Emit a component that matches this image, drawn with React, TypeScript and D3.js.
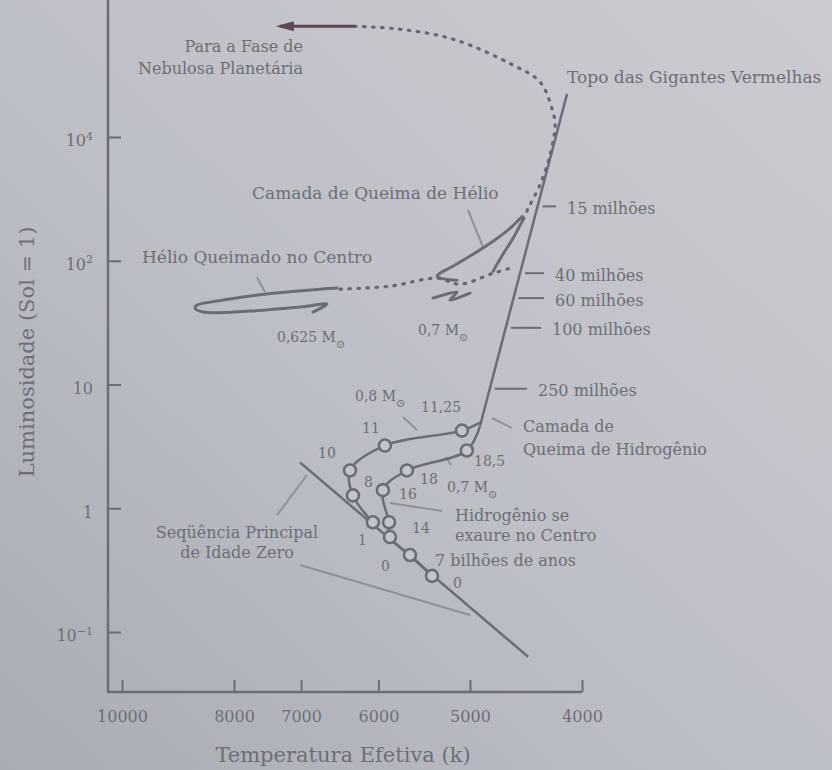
import React, { useEffect, useRef } from "react";
import * as d3 from "d3";

const W = 832;
const H = 770;

// temperature (K) / luminosity (Sol = 1)
const zamsTemp = [7015, 4453];
const zamsLum = [2.35, 0.063];

const track08Temp = [6067, 6313, 6350, 5923, 5081, 4900];
const track08Lum = [0.77, 1.27, 2.02, 3.21, 4.24, 4.92];
const track08Marks = 5;

const track07Temp = [5393, 5635, 5864, 5875, 5947, 5669, 5031, 4900];
const track07Lum = [0.284, 0.419, 0.585, 0.771, 1.4, 2.02, 2.93, 4.66];
const track07Marks = 7;

const giantTemp = [4900, 4121];
const giantLum = [4.66, 2230];

const ageLum = [275, 79.3, 49.9, 28.7, 9.25];
const ageLabels = ["15 milhões", "40 milhões", "60 milhões", "100 milhões", "250 milhões"];
const ageLabelX = [567, 555, 555, 552, 538];

const heShellTemp = [4506, 4617, 4775, 4970, 5173, 5308, 5340, 5256, 5131];
const heShellLum = [228, 183, 143.5, 112.8, 90.3, 79.3, 75.0, 71.0, 69.7];

const heShell2Temp = [4497, 4589, 4682, 4775];
const heShell2Lum = [216, 152, 112.8, 82.4];

const hbDotTemp = [6477, 5864, 5340, 5101, 4775, 4617];
const hbDotLum = [59.0, 62.3, 72.3, 64.7, 79.3, 87.0];

const hbLoopTemp = [6516, 7493, 8277, 8611, 8647, 8511, 7750, 7015, 6648, 6835];
const hbLoopLum = [60.1, 53.8, 47.2, 43.8, 41.5, 38.5, 39.2, 42.2, 44.6, 38.5];

const clumpTemp = [5383, 5131, 5204, 5000];
const clumpLum = [49.9, 55.8, 48.1, 54.7];

const agbTemp = [4497, 4453, 4348, 4263, 4220, 4246, 4348, 4589, 5173, 5748, 6287];
const agbLum = [216, 265, 413, 719, 1255, 1687, 2785, 3812, 6180, 7430, 7852];

const exitTemp = [6287, 7302];
const exitLum = [7852, 7852];

const tempTicks = [10000, 8000, 7000, 6000, 5000, 4000];
const lumTicks = [0.1, 1, 10, 100, 1000];
const lumTickLabels = ["10^-1", "1", "10", "10^2", "10^4"];

const SERIF = "'DejaVu Serif', serif";
const INK = "#6b6d76";
const TEXT = "#6c6e78";
const LIGHT = "#8e9199";

const App = () => {
  const svgEl = useRef<SVGSVGElement>(null);

  useEffect(() => {
    if (!svgEl.current) return;
    drawChart(svgEl.current);
  }, []);

  return <svg ref={svgEl} style={{ position: "absolute", left: 0, top: 0, display: "block" }}></svg>;
};

function drawChart(el: SVGSVGElement) {
  const svg = d3.select(el);
  svg.selectAll("*").remove();
  svg.attr("width", W).attr("height", H);

  const grad = svg
    .append("defs")
    .append("linearGradient")
    .attr("id", "paper")
    .attr("x1", "100%")
    .attr("y1", "0%")
    .attr("x2", "0%")
    .attr("y2", "100%");
  grad.append("stop").attr("offset", "0%").attr("stop-color", "#caccd1");
  grad.append("stop").attr("offset", "55%").attr("stop-color", "#bcbfc5");
  grad.append("stop").attr("offset", "100%").attr("stop-color", "#a8acb3");
  svg.append("rect").attr("width", W).attr("height", H).attr("fill", "url(#paper)");

  const x = d3.scaleLog().domain([10000, 4000]).range([122, 582]);
  const y = d3.scaleLog().domain([0.1, 1000]).range([632, 137]);

  const line = d3
    .line<[number, number]>()
    .x((d) => x(d[0]))
    .y((d) => y(d[1]))
    .curve(d3.curveCatmullRom.alpha(0.5));
  const straight = d3
    .line<[number, number]>()
    .x((d) => x(d[0]))
    .y((d) => y(d[1]));

  // axes
  svg.append("line").attr("x1", 108).attr("y1", 0).attr("x2", 108).attr("y2", 692)
    .attr("stroke", INK).attr("stroke-width", 2.5);
  svg.append("line").attr("x1", 107).attr("y1", 692).attr("x2", 582).attr("y2", 692)
    .attr("stroke", INK).attr("stroke-width", 2.5);

  const xAxis = svg
    .append("g")
    .attr("transform", "translate(0,692)")
    .call(
      d3.axisBottom(x).tickValues(tempTicks).tickSize(-12).tickSizeOuter(0).tickPadding(19)
        .tickFormat((d) => String(d))
    );
  xAxis.select(".domain").remove();
  xAxis.selectAll("line").attr("stroke", INK).attr("stroke-width", 2);
  xAxis.selectAll("text").attr("font-family", SERIF).attr("font-size", 16).attr("fill", TEXT);

  const yAxis = svg
    .append("g")
    .attr("transform", "translate(108,0)")
    .call(d3.axisLeft(y).tickValues(lumTicks).tickSize(-13).tickSizeOuter(0).tickPadding(15));
  yAxis.select(".domain").remove();
  yAxis.selectAll("line").attr("stroke", INK).attr("stroke-width", 2);
  yAxis
    .selectAll<SVGTextElement, number>("text")
    .attr("font-family", SERIF)
    .attr("font-size", 16)
    .attr("fill", TEXT)
    .attr("dy", "0.55em")
    .each(function (_d, i) {
      const [base, exp] = lumTickLabels[i].split("^");
      const t = d3.select(this).text(null);
      t.append("tspan").text(base);
      if (exp) t.append("tspan").attr("dy", "-0.6em").attr("font-size", 11).text(exp.replace("-", "−"));
    });

  svg.append("text")
    .attr("transform", "translate(27,352) rotate(-90)")
    .attr("text-anchor", "middle").attr("dominant-baseline", "central")
    .attr("font-family", SERIF).attr("font-size", 21).attr("fill", TEXT)
    .text("Luminosidade (Sol = 1)");
  svg.append("text")
    .attr("x", 343).attr("y", 755)
    .attr("text-anchor", "middle").attr("dominant-baseline", "central")
    .attr("font-family", SERIF).attr("font-size", 21).attr("fill", TEXT)
    .text("Temperatura Efetiva (k)");

  // leader lines for the labels
  const leaders = [
    [307, 475, 277, 515],
    [300, 565, 470, 615],
    [257, 277, 265, 292],
    [468, 210, 483, 247],
    [403, 417, 417, 430],
    [390, 503, 442, 511],
    [492, 418, 512, 428],
    [446, 457, 451, 465],
  ];
  svg.append("g").selectAll("line").data(leaders).enter().append("line")
    .attr("x1", (d) => d[0]).attr("y1", (d) => d[1]).attr("x2", (d) => d[2]).attr("y2", (d) => d[3])
    .attr("stroke", LIGHT).attr("stroke-width", 2);

  // zero-age main sequence
  svg.append("path").attr("d", straight(d3.zip(zamsTemp, zamsLum) as [number, number][]))
    .attr("fill", "none").attr("stroke", INK).attr("stroke-width", 2.5);

  // red giant branch
  svg.append("path").attr("d", straight(d3.zip(giantTemp, giantLum) as [number, number][]))
    .attr("fill", "none").attr("stroke", INK).attr("stroke-width", 2.5);

  const giantX = d3.scaleLog().domain(giantLum).range(giantTemp.map((t) => x(t)));
  ageLum.forEach((l, i) => {
    const lx = giantX(l);
    svg.append("line").attr("x1", lx + 5).attr("x2", ageLabelX[i] - 11)
      .attr("y1", y(l)).attr("y2", y(l)).attr("stroke", INK).attr("stroke-width", 2);
    svg.append("text").attr("x", ageLabelX[i]).attr("y", y(l) + 2)
      .attr("dominant-baseline", "central")
      .attr("font-family", SERIF).attr("font-size", 16).attr("fill", TEXT)
      .text(ageLabels[i]);
  });

  // main-sequence to giant tracks
  const tracks = [
    { t: track08Temp, l: track08Lum, n: track08Marks },
    { t: track07Temp, l: track07Lum, n: track07Marks },
  ];
  tracks.forEach((tr) => {
    const pts = d3.zip(tr.t, tr.l) as [number, number][];
    svg.append("path").attr("d", line(pts)).attr("fill", "none")
      .attr("stroke", INK).attr("stroke-width", 2.5);
    svg.append("g").selectAll("circle").data(pts.slice(0, tr.n)).enter().append("circle")
      .attr("cx", (d) => x(d[0])).attr("cy", (d) => y(d[1])).attr("r", 6)
      .attr("fill", "#c2c5cb").attr("stroke", INK).attr("stroke-width", 2.6);
  });

  // helium burning
  const solidPaths = [
    [heShellTemp, heShellLum],
    [heShell2Temp, heShell2Lum],
    [hbLoopTemp, hbLoopLum],
    [clumpTemp, clumpLum],
  ];
  solidPaths.forEach(([t, l]) => {
    svg.append("path").attr("d", line(d3.zip(t, l) as [number, number][]))
      .attr("fill", "none").attr("stroke", INK).attr("stroke-width", 3)
      .attr("stroke-linecap", "round").attr("stroke-linejoin", "round");
  });

  const dotted = [
    [hbDotTemp, hbDotLum],
    [agbTemp, agbLum],
  ];
  dotted.forEach(([t, l]) => {
    svg.append("path").attr("d", line(d3.zip(t, l) as [number, number][]))
      .attr("fill", "none").attr("stroke", "#676873").attr("stroke-width", 3.2)
      .attr("stroke-dasharray", "1.5 7.5").attr("stroke-linecap", "round");
  });

  // exit to planetary nebula
  const exitPts = d3.zip(exitTemp, exitLum) as [number, number][];
  svg.append("path").attr("d", straight(exitPts)).attr("fill", "none")
    .attr("stroke", "#5c4651").attr("stroke-width", 3);
  const ax = x(exitTemp[1]);
  const ay = y(exitLum[1]);
  svg.append("path")
    .attr("d", `M${ax - 4},${ay} L${ax + 14},${ay - 5} L${ax + 14},${ay + 5} Z`)
    .attr("fill", "#5c4651");

  // annotations
  const notes: [string, number, number, string, number][] = [
    ["Para a Fase de", 303, 46, "end", 16],
    ["Nebulosa Planetária", 303, 68, "end", 16],
    ["Topo das Gigantes Vermelhas", 567, 77, "start", 17],
    ["Camada de Queima de Hélio", 252, 193, "start", 17],
    ["Hélio Queimado no Centro", 142, 257, "start", 17],
    ["Camada de", 523, 426, "start", 16],
    ["Queima de Hidrogênio", 523, 449, "start", 16],
    ["Hidrogênio se", 455, 515, "start", 16],
    ["exaure no Centro", 455, 535, "start", 16],
    ["7 bilhões de anos", 435, 560, "start", 16],
    ["Seqüência Principal", 237, 532, "middle", 16],
    ["de Idade Zero", 237, 552, "middle", 16],
    ["0", 453, 583, "start", 14],
    ["14", 412, 528, "start", 14],
    ["16", 399, 494, "start", 14],
    ["18", 420, 479, "start", 14],
    ["18,5", 474, 461, "start", 14],
    ["11,25", 421, 407, "start", 14],
    ["11", 362, 428, "start", 14],
    ["10", 318, 453, "start", 14],
    ["8", 364, 482, "start", 14],
    ["1", 358, 540, "start", 14],
    ["0", 381, 566, "start", 14],
  ];
  svg.append("g").selectAll("text").data(notes).enter().append("text")
    .attr("x", (d) => d[1]).attr("y", (d) => d[2])
    .attr("text-anchor", (d) => d[3]).attr("dominant-baseline", "central")
    .attr("font-family", SERIF).attr("font-size", (d) => d[4]).attr("fill", TEXT)
    .text((d) => d[0]);

  const masses: [string, number, number][] = [
    ["0,625 M", 277, 337],
    ["0,7 M", 418, 330],
    ["0,7 M", 447, 487],
    ["0,8 M", 355, 396],
  ];
  masses.forEach(([s, px, py]) => {
    const t = svg.append("text").attr("x", px).attr("y", py)
      .attr("dominant-baseline", "central")
      .attr("font-family", SERIF).attr("font-size", 14).attr("fill", TEXT);
    t.append("tspan").text(s);
    t.append("tspan").attr("dy", 7).attr("font-size", 11).text("⊙");
  });
}

export default App;
